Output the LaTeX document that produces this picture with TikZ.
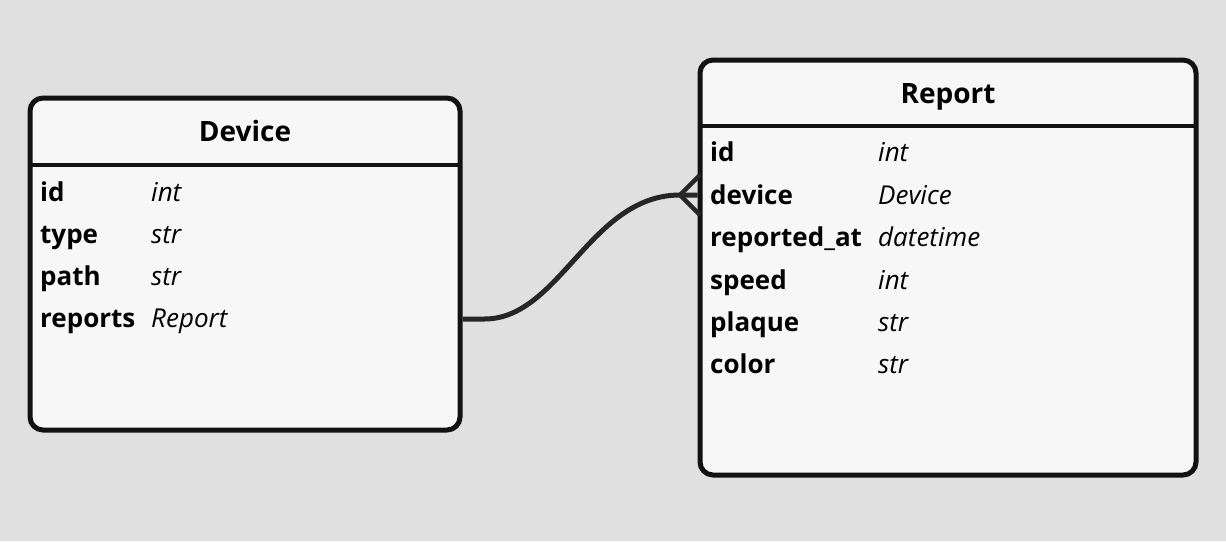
\documentclass[tikz,border=0pt]{standalone}
\usepackage{fontspec}
\setmainfont{Open Sans}
\begin{document}
\begin{tikzpicture}[x=1pt,y=-1pt,
  entity/.style={draw=black!93,line width=5pt,rounded corners=13pt,fill=black!3,inner sep=0pt},
  divider/.style={draw=black!93,line width=4pt},
  title/.style={font=\fontsize{28}{30}\selectfont\bfseries,anchor=base,inner sep=0pt},
  attr/.style={font=\fontsize{26}{30}\selectfont\bfseries,anchor=base west,inner sep=0pt},
  atype/.style={font=\fontsize{26}{30}\selectfont\itshape,anchor=base west,inner sep=0pt},
  rel/.style={draw=black!85,line width=5pt}]
\fill[black!12] (0,0) rectangle (1226,541);
\useasboundingbox (0,0) rectangle (1226,541);
% Device
\node[entity,minimum width=430pt,minimum height=332pt] (dev) at (245,264) {};
\draw[divider] (32,165) -- (458,165);
\node[title] (devt) at (245,141.5) {Device};
\node[attr] (d1) at (40,201.5) {id};
\node[atype] (d1t) at (151,201.5) {int};
\node[attr] (d2) at (40,243.5) {type};
\node[atype] (d2t) at (151,243.5) {str};
\node[attr] (d3) at (40,285.5) {path};
\node[atype] (d3t) at (151,285.5) {str};
\node[attr] (d4) at (40,327.5) {reports};
\node[atype] (d4t) at (151,327.5) {Report};
% Report
\node[entity,minimum width=496pt,minimum height=415pt] (rep) at (948,267.5) {};
\draw[divider] (702,126) -- (1194,126);
\node[title] (rept) at (948,103) {Report};
\node[attr] (r1) at (710,161.5) {id};
\node[atype] (r1t) at (878,161.5) {int};
\node[attr] (r2) at (710,204) {device};
\node[atype] (r2t) at (878,204) {Device};
\node[attr] (r3) at (710,246.5) {reported\_at};
\node[atype] (r3t) at (878,246.5) {datetime};
\node[attr] (r4) at (710,289) {speed};
\node[atype] (r4t) at (878,289) {int};
\node[attr] (r5) at (710,331) {plaque};
\node[atype] (r5t) at (878,331) {str};
\node[attr] (r6) at (710,373.5) {color};
\node[atype] (r6t) at (878,373.5) {str};
% connector
\coordinate (s) at (dev.east |- 0,319);
\coordinate (f) at (680,195);
\coordinate (e) at (rep.west |- 0,195);
\draw[rel] (s) -- ++(22,0) .. controls (560,319) and (590,195) .. (f) -- (e);
\draw[rel,line width=4.5pt] (700,175) -- (f) -- (700,215);
\end{tikzpicture}
\end{document}
